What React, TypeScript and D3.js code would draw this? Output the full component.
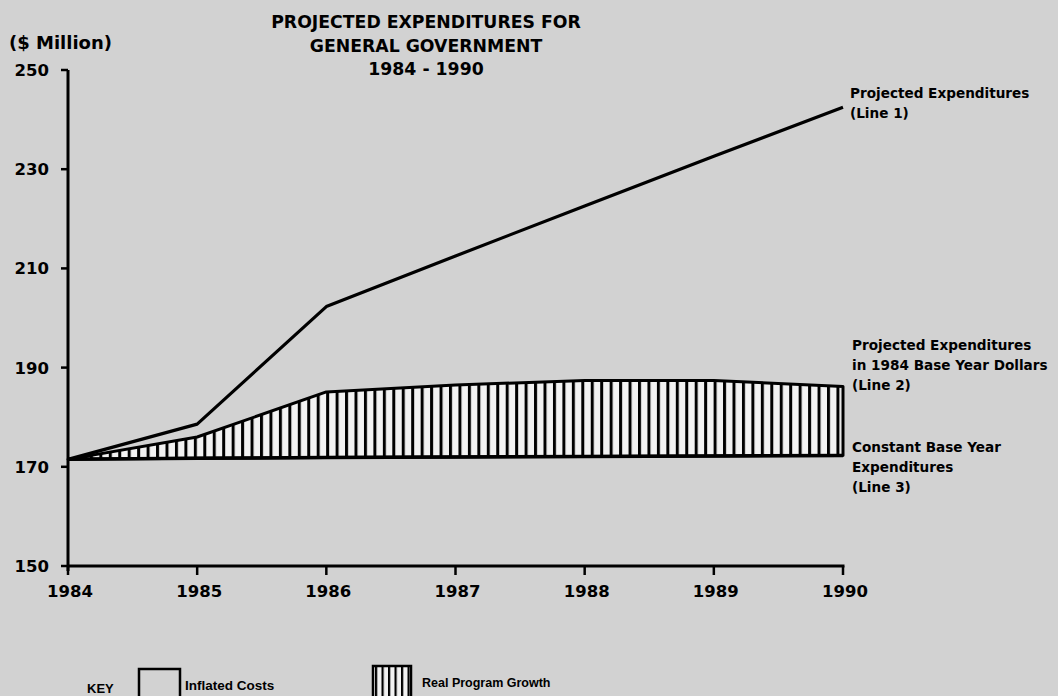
import React from "react";
import * as d3 from "d3";

const years = [1984, 1985, 1986, 1987, 1988, 1989, 1990];
const line1 = [171.5, 178.6, 202.3, 212.5, 222.6, 232.6, 242.5];
const line2 = [171.5, 176.0, 185.1, 186.5, 187.4, 187.4, 186.2];
const line3 = [171.5, 171.7, 171.9, 172.0, 172.1, 172.2, 172.3];
const yTicks = [150, 170, 190, 210, 230, 250];
const titleLines = ["PROJECTED EXPENDITURES FOR", "GENERAL GOVERNMENT", "1984 - 1990"];
const label1 = ["Projected Expenditures", "(Line 1)"];
const label2 = ["Projected Expenditures", "in 1984 Base Year Dollars", "(Line 2)"];
const label3 = ["Constant Base Year", "Expenditures", "(Line 3)"];

const W = 1058;
const H = 696;
const FONT = "'DejaVu Sans', 'Liberation Sans', Arial, sans-serif";
const FONT2 = "'Liberation Sans', Arial, Helvetica, sans-serif";

export default function App() {
  const x = d3.scaleLinear().domain([1984, 1990]).range([68, 843]);
  const y = d3.scaleLinear().domain([150, 250]).range([566, 70]);

  const l1 = d3.line<number>().x((_, i) => x(years[i])).y((d) => y(d));
  const area = d3
    .area<number>()
    .x((_, i) => x(years[i]))
    .y0((_, i) => y(line3[i]))
    .y1((d) => y(d));

  const bg = "#d2d2d2";
  return (
    <svg
      width={W}
      height={H}
      style={{ position: "absolute", left: 0, top: 0, background: bg }}
      fontFamily={FONT}
      fontWeight="bold"
    >
      <defs>
        <pattern id="hatch" patternUnits="userSpaceOnUse" x={x(1984) + 3} y={0} width={9.45} height={10}>
          <rect x={0} y={0} width={9.45} height={10} fill="#f2f2f2" />
          <rect x={0} y={0} width={3} height={10} fill="#000" />
        </pattern>
        <pattern id="hatchKey" patternUnits="userSpaceOnUse" x={375} y={0} width={6.5} height={10}>
          <rect x={0} y={0} width={6.5} height={10} fill="#f2f2f2" />
          <rect x={0} y={0} width={2.2} height={10} fill="#000" />
        </pattern>
      </defs>
      <rect x={0} y={0} width={W} height={H} fill={bg} />

      {/* title */}
      {titleLines.map((t, i) => (
        <text key={t} x={426} y={28 + i * 23.5} textAnchor="middle" fontSize={17.3} fill="#000">
          {t}
        </text>
      ))}
      <text x={9} y={49} fontSize={18} fill="#000">($ Million)</text>

      {/* hatched region */}
      <path d={area(line2) || ""} fill="url(#hatch)" stroke="#000" strokeWidth={3} strokeLinejoin="round" />
      <path d={l1(line3) || ""} fill="none" stroke="#000" strokeWidth={3.5} />
      <path d={l1(line1) || ""} fill="none" stroke="#000" strokeWidth={3.2} strokeLinejoin="round" />

      {/* y axis */}
      <line x1={x(1984)} x2={x(1984)} y1={y(250)} y2={y(150) + 5} stroke="#000" strokeWidth={3} />
      {yTicks.map((t) => (
        <g key={t}>
          <line x1={x(1984) - 7} x2={x(1984)} y1={y(t)} y2={y(t)} stroke="#000" strokeWidth={2.5} />
          <text x={49} y={y(t) + 6} textAnchor="end" fontSize={16.5} fill="#000">
            {t}
          </text>
        </g>
      ))}

      {/* x axis */}
      <line x1={x(1984) - 1} x2={x(1990) + 1.5} y1={y(150)} y2={y(150)} stroke="#000" strokeWidth={3.2} />
      {years.map((yr) => (
        <g key={yr}>
          <line x1={x(yr)} x2={x(yr)} y1={y(150)} y2={y(150) + 9} stroke="#000" strokeWidth={2.5} />
          <text x={x(yr) + 2} y={y(150) + 31} textAnchor="middle" fontSize={16.5} fill="#000">
            {yr}
          </text>
        </g>
      ))}

      {/* right labels */}
      {label1.map((t, i) => (
        <text key={"a" + i} x={850} y={98 + i * 20} fontSize={13.6} fill="#000">{t}</text>
      ))}
      {label2.map((t, i) => (
        <text key={"b" + i} x={852} y={350 + i * 20} fontSize={13.6} fill="#000">{t}</text>
      ))}
      {label3.map((t, i) => (
        <text key={"c" + i} x={852} y={452 + i * 20} fontSize={13.6} fill="#000">{t}</text>
      ))}

      {/* key */}
      <text x={87} y={693} fontSize={13} fontFamily={FONT2} fill="#000">KEY</text>
      <rect x={139} y={669} width={41} height={40} fill="none" stroke="#000" strokeWidth={2.5} />
      <text x={185} y={690} fontSize={13.5} fontFamily={FONT2} fill="#000">Inflated Costs</text>
      <rect x={373} y={666} width={38} height={40} fill="url(#hatchKey)" stroke="#000" strokeWidth={2.5} />
      <text x={422} y={687} fontSize={12.5} fontFamily={FONT2} fill="#000">Real Program Growth</text>
    </svg>
  );
}
